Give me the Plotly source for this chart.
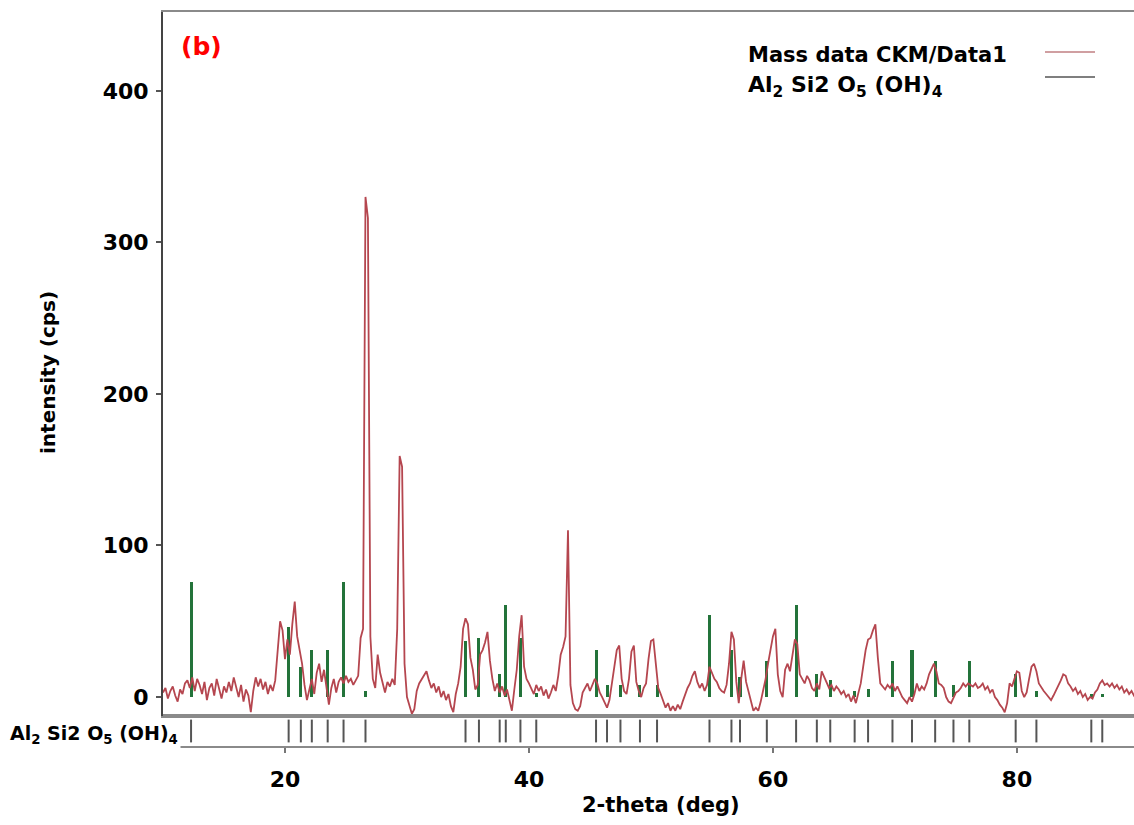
import numpy as np
import plotly.graph_objects as go

# ---- measured pattern: 2-theta scan from 10.0 deg in 0.2 deg steps ----
SCAN_START = 10.0
SCAN_STEP = 0.2
counts = [
    3, 6, -1, 4, 7, 1, -3, 5, 2, 9,            # 10.0 - 11.8
    11, 6, 13, 4, 12, 8, 2, 10, -2, 6,         # 12.0 - 13.8
    9, 1, 12, 5, -1, 7, 3, 10, 4, 13,          # 14.0 - 15.8
    6, 0, 8, -3, 5, 1, -10, 4, 13, 7,          # 16.0 - 17.8
    12, 5, 10, 2, 8, 4, 11, 30, 50, 44,        # 18.0 - 19.8
    25, 38, 28, 48, 63, 40, 31, 22, 8, -2,     # 20.0 - 21.8
    5, 12, 2, 16, 22, 10, 18, 5, -5, 6,        # 22.0 - 23.8
    12, 3, 10, 13, 9, 14, 10, 12, 8, 11,       # 24.0 - 25.8
    14, 39, 45, 330, 316, 40, 12, 6, 28, 16,   # 26.0 - 27.8
    9, 3, 10, 7, 12, 8, 45, 159, 152, 22,      # 28.0 - 29.8
    0, -6, -11, -8, 4, 9, 12, 15, 17, 11,      # 30.0 - 31.8
    6, 9, 3, 7, 0, 4, -2, 2, -6, -10,          # 32.0 - 33.8
    2, 9, 20, 45, 52, 48, 26, 18, 5, 8,        # 34.0 - 35.8
    28, 31, 36, 43, 24, 12, 4, 9, 3, 7,        # 36.0 - 37.8
    1, 5, -2, -9, 5, 18, 40, 54, 20, 12,       # 38.0 - 39.8
    9, 6, 2, 8, 4, 7, 1, 5, -1, 3,             # 40.0 - 41.8
    8, 4, 14, 28, 33, 40, 110, 8, -4, -8,      # 42.0 - 43.8
    -9, -6, 3, 6, 9, 4, 8, 12, 9, 3,           # 44.0 - 45.8
    0, -3, -7, -2, 8, 20, 31, 34, 12, 4,       # 46.0 - 47.8
    2, 12, 30, 34, 10, 4, 0, 6, 9, 25,         # 48.0 - 49.8
    37, 38, 20, 6, 2, -3, -7, -4, -9, -6,      # 50.0 - 51.8
    -9, -5, -8, -3, 2, 6, 9, 14, 17, 10,       # 52.0 - 53.8
    6, 9, 4, 8, 20, 16, 12, 10, 6, 4,          # 54.0 - 55.8
    3, 8, 22, 43, 38, 10, -4, 12, 24, 10,      # 56.0 - 57.8
    3, -4, -9, -7, -9, -3, 4, 12, 22, 30,      # 58.0 - 59.8
    40, 45, 15, 4, 0, 18, 22, 17, 28, 38,      # 60.0 - 61.8
    35, 15, 12, 9, 14, 11, 6, 4, 9, 5,         # 62.0 - 63.8
    17, 13, 9, 6, 8, 4, 7, 5, 2, 4,            # 64.0 - 65.8
    0, 2, -3, 1, -4, 2, 9, 20, 31, 38,         # 66.0 - 67.8
    39, 44, 48, 26, 9, 7, 5, 8, 6, 9,          # 68.0 - 69.8
    4, 7, 3, 0, -2, -4, 0, -3, 2, 9,           # 70.0 - 71.8
    4, 7, 5, 9, 15, 18, 22, 17, 9, 8,          # 72.0 - 73.8
    6, 0, -3, -4, 0, 3, 4, 6, 9, 7,            # 74.0 - 75.8
    9, 8, 7, 9, 6, 7, 9, 5, 7, 3,              # 76.0 - 77.8
    5, 0, -2, -5, -7, -10, -4, 9, 7, 12,       # 78.0 - 79.8
    17, 16, 4, 0, 3, 12, 20, 22, 17, 9,        # 80.0 - 81.8
    6, 4, 2, 0, -2, 1, 4, 8, 11, 15,           # 82.0 - 83.8
    14, 9, 7, 4, 6, 2, 4, 0, 2, -2,            # 84.0 - 85.8
    0, -1, 3, 5, 9, 11, 8, 9, 7, 9,            # 86.0 - 87.8
    6, 8, 5, 7, 3, 5, 2, 4, 1, 3,              # 88.0 - 89.8
]
two_theta = np.round(SCAN_START + SCAN_STEP * np.arange(len(counts)), 2)

# ---- reference phase: Al2 Si2 O5 (OH)4 line positions and relative heights ----
ref_positions = [
    12.3, 20.3, 21.3, 22.2, 23.5, 24.8, 26.6,
    34.8, 35.9, 37.6, 38.1, 39.3, 40.6,
    45.5, 46.4, 47.5, 49.1, 50.5,
    54.8, 56.6, 57.3, 59.5, 61.9, 63.6, 64.7,
    66.7, 67.8, 69.8, 71.4, 73.3, 74.8, 76.1,
    79.9, 81.6, 86.1, 87.0,
]
ref_heights = [
    76, 46, 20, 31, 31, 76, 4,
    37, 39, 15, 61, 39, 3,
    31, 8, 8, 8, 8,
    54, 31, 13, 24, 61, 15, 11,
    4, 5, 24, 31, 24, 8, 24,
    15, 4, 2, 2,
]

X_RANGE = [10, 89.6]
Y_RANGE = [-12.5, 452]

FONT = "DejaVu Sans"
RED = "#b5464f"
GREEN = "#23733a"

fig = go.Figure()

# reference sticks in the main panel
fig.add_trace(go.Bar(
    x=ref_positions, y=ref_heights, width=0.25,
    marker=dict(color=GREEN, line=dict(width=0)),
    xaxis="x", yaxis="y", showlegend=False, hoverinfo="x+y",
))

# measured pattern
fig.add_trace(go.Scatter(
    x=two_theta, y=counts, mode="lines",
    line=dict(color=RED, width=1.8),
    xaxis="x", yaxis="y", showlegend=False,
))

# reference tick strip under the main panel
strip_x, strip_y = [], []
for p in ref_positions:
    strip_x += [p, p, None]
    strip_y += [0.12, 0.88, None]
fig.add_trace(go.Scatter(
    x=strip_x, y=strip_y, mode="lines",
    line=dict(color="#555555", width=2),
    xaxis="x2", yaxis="y2", showlegend=False, hoverinfo="skip",
))

W, H = 1134, 825
L, R, T, B = 163, 0, 12, 79
PW, PH = W - L - R, H - T - B
STRIP = 30 / PH


def px(xp):
    return (xp - L) / PW


def py(yp):
    return (H - B - yp) / PH


bold = dict(family=FONT, color="black", weight="bold")

fig.update_layout(
    width=W, height=H,
    margin=dict(l=L, r=R, t=T, b=B, pad=0),
    paper_bgcolor="white", plot_bgcolor="white",
    bargap=0,
    xaxis=dict(
        range=X_RANGE, anchor="y", domain=[0, 1],
        showticklabels=False, ticks="", showgrid=False, zeroline=False,
        showline=True, linecolor="#8a8a8a", linewidth=2, mirror=True,
    ),
    yaxis=dict(
        range=Y_RANGE, domain=[STRIP, 1], anchor="x",
        tickvals=[0, 100, 200, 300, 400],
        ticks="outside", ticklen=5, tickwidth=1.5, tickcolor="#555555",
        ticklabelstandoff=3,
        tickfont=dict(size=22, **bold),
        showgrid=False, zeroline=False,
        showline=True, linecolor="#444444", linewidth=2,
    ),
    xaxis2=dict(
        range=X_RANGE, anchor="y2", matches="x", domain=[0, 1],
        tickvals=[20, 40, 60, 80],
        ticks="outside", ticklen=5, tickwidth=1.5, tickcolor="#777777",
        ticklabelstandoff=8,
        tickfont=dict(size=22, **bold),
        showgrid=False, zeroline=False,
        showline=True, linecolor="#8a8a8a", linewidth=2, mirror=True,
    ),
    yaxis2=dict(
        range=[0, 1], domain=[0, STRIP], anchor="x2",
        showticklabels=False, ticks="", showgrid=False, zeroline=False,
        showline=False,
    ),
    annotations=[
        dict(text="2-theta (deg)", xref="paper", yref="paper",
             x=px(661), y=py(805), xanchor="center", yanchor="middle",
             showarrow=False, font=dict(size=21, **bold)),
        dict(text="intensity (cps)", xref="paper", yref="paper",
             x=px(48), y=py(373), xanchor="center", yanchor="middle",
             textangle=-90, showarrow=False, font=dict(size=20, **bold)),
        dict(text="(b)", xref="paper", yref="paper",
             x=px(179), y=py(47), xanchor="left", yanchor="middle",
             showarrow=False, font=dict(size=25, family=FONT, color="red", weight="bold")),
        dict(text="Mass data CKM/Data1", xref="paper", yref="paper",
             x=px(746), y=py(55), xanchor="left", yanchor="middle",
             showarrow=False, font=dict(size=21, **bold)),
        dict(text="Al<sub>2</sub> Si2 O<sub>5</sub> (OH)<sub>4</sub>",
             xref="paper", yref="paper",
             x=px(746), y=py(86), xanchor="left", yanchor="middle",
             showarrow=False, font=dict(size=22, **bold)),
        dict(text="Al<sub>2</sub> Si2 O<sub>5</sub> (OH)<sub>4</sub>",
             xref="paper", yref="paper",
             x=px(7), y=py(734), xanchor="left", yanchor="middle",
             showarrow=False, bgcolor="white", borderpad=2,
             font=dict(size=19, **bold)),
    ],
    shapes=[
        dict(type="line", xref="paper", yref="paper",
             x0=px(1045), x1=px(1095), y0=py(52), y1=py(52),
             line=dict(color="#c07f82", width=1.5)),
        dict(type="line", xref="paper", yref="paper",
             x0=px(1045), x1=px(1095), y0=py(77), y1=py(77),
             line=dict(color="#555555", width=1.5)),
    ],
)

fig.write_html("out.html")
